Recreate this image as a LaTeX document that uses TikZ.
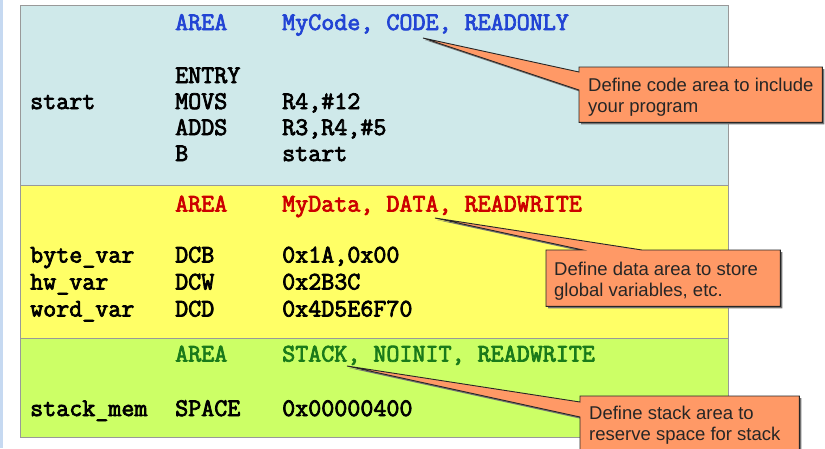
\documentclass[tikz,border=0pt]{standalone}
\usepackage{fontspec}
\setmainfont{Liberation Sans}
\newfontfamily\asmfont{Latin Modern Mono}[FakeBold=3]
\usetikzlibrary{calc}
\pgfdeclarelayer{sections}
\pgfdeclarelayer{callouts}
\pgfsetlayers{sections,callouts,main}

\definecolor{stripblue}{HTML}{C6D9F1}
\definecolor{codebg}{HTML}{CFE9EA}
\definecolor{databg}{HTML}{FFFF66}
\definecolor{stackbg}{HTML}{CCFF66}
\definecolor{sectionline}{HTML}{999999}
\definecolor{noteorange}{HTML}{FF9966}
\definecolor{kwblue}{HTML}{2244D4}
\definecolor{kwred}{HTML}{CC0000}
\definecolor{kwgreen}{HTML}{1A7A1A}

\tikzset{
  section/.style={anchor=north west, inner sep=0, draw=sectionline, line width=1.3pt},
  asm/.style={anchor=base west, inner sep=0,
    font=\fontsize{25.3}{28}\selectfont\asmfont},
  notebox/.style={anchor=north west, inner sep=0},
  notetext/.style={anchor=north west, inner sep=0, align=left, text=black!85,
    font=\fontsize{18.5}{21.7}\selectfont},
  callout/.style={fill=noteorange, draw=black!85, line width=0.9pt, line join=miter,
    preaction={fill=black!55, transform canvas={shift={(2pt,-2pt)}}}},
}

\begin{document}
\begin{tikzpicture}[x=1pt,y=-1pt]
\useasboundingbox (0,0) rectangle (825,448);

% left page strip
\fill[stripblue] (0,0) rectangle (2.5,448);

% the three memory areas
\begin{pgfonlayer}{sections}
\node[section, fill=codebg,  minimum width=708pt, minimum height=180pt] (codeSec)  at (20,5)   {};
\node[section, fill=databg,  minimum width=708pt, minimum height=153pt] (dataSec)  at (20,185) {};
\node[section, fill=stackbg, minimum width=708pt, minimum height=99pt]  (stackSec) at (20,338) {};
\end{pgfonlayer}

% code area
\node[asm, text=kwblue] (a1) at (175,30) {AREA};
\node[asm, text=kwblue] (a1o) at (282,30) {MyCode, CODE, READONLY};
\node[asm] (entry) at (175,83) {ENTRY};
\node[asm] (lstart) at (30,109) {start};
\node[asm] (movs) at (175,109) {MOVS};
\node[asm] (movso) at (282,109) {R4,\#12};
\node[asm] (adds) at (175,135) {ADDS};
\node[asm] (addso) at (282,135) {R3,R4,\#5};
\node[asm] (br) at (175,161) {B};
\node[asm] (bro) at (282,161) {start};

% data area
\node[asm, text=kwred] (a2) at (175,211.5) {AREA};
\node[asm, text=kwred] (a2o) at (282,211.5) {MyData, DATA, READWRITE};
\node[asm] (lbyte) at (30,262.5) {byte\_var};
\node[asm] (dcb) at (175,262.5) {DCB};
\node[asm] (dcbo) at (282,262.5) {0x1A,0x00};
\node[asm] (lhw) at (30,289.5) {hw\_var};
\node[asm] (dcw) at (175,289.5) {DCW};
\node[asm] (dcwo) at (282,289.5) {0x2B3C};
\node[asm] (lword) at (30,316.5) {word\_var};
\node[asm] (dcd) at (175,316.5) {DCD};
\node[asm] (dcdo) at (282,316.5) {0x4D5E6F70};

% stack area
\node[asm, text=kwgreen] (a3) at (175,361.5) {AREA};
\node[asm, text=kwgreen] (a3o) at (282,361.5) {STACK, NOINIT, READWRITE};
\node[asm] (lstack) at (30,416) {stack\_mem};
\node[asm] (space) at (175,416) {SPACE};
\node[asm] (spaceo) at (282,416) {0x00000400};

% callouts
\coordinate (codeTip)  at (423,38);
\coordinate (dataTip)  at (435,218);
\coordinate (stackTip) at (347,366);

\node[notebox, minimum width=243pt, minimum height=55pt] (codeBox)  at (579,67)  {};
\node[notebox, minimum width=234pt, minimum height=56pt] (dataBox)  at (546,250) {};
\node[notebox, minimum width=219pt, minimum height=70pt] (stackBox) at (580,396) {};

\begin{pgfonlayer}{callouts}
\path[callout] (codeBox.north west) -- (codeBox.north east) -- (codeBox.south east)
  -- (codeBox.south west) -- ($(codeBox.north west)+(0,23)$) -- (codeTip)
  -- ($(codeBox.north west)+(0,5)$) -- cycle;
\path[callout] (dataBox.north west) -- ($(dataBox.north west)+(37,0)$) -- (dataTip)
  -- ($(dataBox.north west)+(96,0)$) -- (dataBox.north east) -- (dataBox.south east)
  -- (dataBox.south west) -- cycle;
\path[callout] (stackBox.north west) -- (stackBox.north east) -- (stackBox.south east)
  -- (stackBox.south west) -- ($(stackBox.north west)+(0,21)$) -- (stackTip)
  -- ($(stackBox.north west)+(0,6)$) -- cycle;
\end{pgfonlayer}

\node[notetext] (codeNote)  at (588,77.5)  {Define code area to include\\your program};
\node[notetext] (dataNote)  at (554,261.5) {Define data area to store\\global variables, etc.};
\node[notetext] (stackNote) at (589,405.5) {Define stack area to\\reserve space for stack};
\end{tikzpicture}
\end{document}
